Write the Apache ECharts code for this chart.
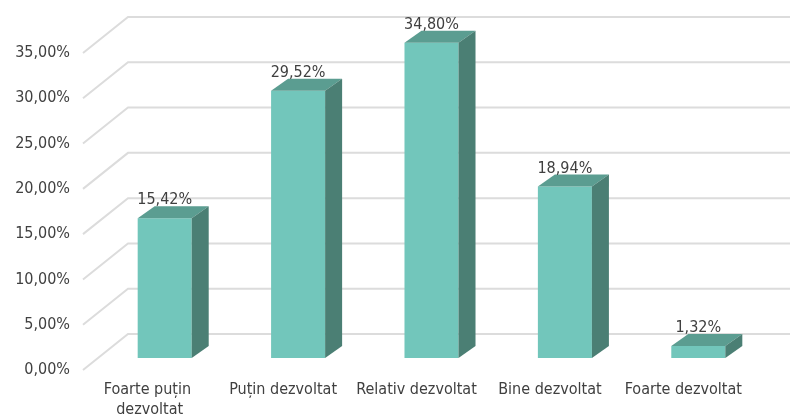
<!DOCTYPE html>
<html>
<head>
<meta charset="utf-8">
<script src="https://cdn.jsdelivr.net/npm/echarts@6/dist/echarts.min.js"></script>
<style>html,body{margin:0;padding:0;background:#fff;}#c{width:790px;height:414px;}</style>
</head>
<body>
<div id="c"></div>
<script>
const categories = ['Foarte puțin dezvoltat', 'Puțin dezvoltat', 'Relativ dezvoltat', 'Bine dezvoltat', 'Foarte dezvoltat'];
const values = [15.42, 29.52, 34.80, 18.94, 1.32];
const yTicks = [0, 5, 10, 15, 20, 25, 30, 35];

const FONT = '"DejaVu Sans Condensed", "DejaVu Sans", sans-serif';
const TXT = '#404040';
// 3D geometry (pixels)
const FLOOR_DX = 45, FLOOR_DY = -36;   // depth of the floor / walls
const BAR_OX = 15, BAR_OY = -12;       // offset of bar front face from front plane
const BAR_DX = 17, BAR_DY = -12;       // depth of each bar
const BAR_W = 0.405;                   // bar width as fraction of band

function fmt(v) { return v.toFixed(2).replace('.', ',') + '%'; }

const chart = echarts.init(document.getElementById('c'), null, {renderer: 'canvas'});
chart.setOption({
  animation: false,
  backgroundColor: '#ffffff',
  grid: {left: 83, top: 53, width: 667, height: 317, containLabel: false, outerBoundsMode: 'none'},
  xAxis: {
    type: 'category',
    data: categories,
    axisLine: {show: false},
    axisTick: {show: false},
    axisLabel: {
      interval: 0, margin: 10, color: TXT, fontFamily: FONT, fontSize: 16,
      lineHeight: 20, width: 160, overflow: 'break'
    }
  },
  yAxis: {
    type: 'value', min: 0, max: 35, interval: 5,
    axisLine: {show: false}, axisTick: {show: false}, splitLine: {show: false},
    axisLabel: {margin: 13, color: TXT, fontFamily: FONT, fontSize: 16, formatter: fmt}
  },
  series: [
    {
      type: 'custom',
      silent: true,
      z: 1,
      data: yTicks.map(v => [0, v]),
      encode: {x: 0, y: 1},
      renderItem: function (params, api) {
        const cs = params.coordSys;
        const p = api.coord([0, api.value(1)]);
        const y = p[1];
        return {
          type: 'polyline',
          shape: {points: [[cs.x, y], [cs.x + FLOOR_DX, y + FLOOR_DY], [cs.x + cs.width + FLOOR_DX + 10, y + FLOOR_DY]]},
          style: {stroke: '#dcdcdc', lineWidth: 2, fill: null}
        };
      }
    },
    {
      type: 'custom',
      silent: true,
      z: 2,
      data: values.map((v, i) => [i, v]),
      encode: {x: 0, y: 1},
      renderItem: function (params, api) {
        const i = api.value(0), v = api.value(1);
        const base = api.coord([i, 0]);
        const top = api.coord([i, v]);
        const band = api.size([1, 0])[0];
        const w = band * BAR_W;
        const x0 = base[0] - w / 2 + BAR_OX;
        const y0 = base[1] + BAR_OY;
        const yt = top[1] + BAR_OY;
        return {
          type: 'group',
          children: [
            {type: 'rect', shape: {x: x0, y: yt, width: w, height: y0 - yt}, style: {fill: '#72c6bb'}},
            {type: 'polygon', shape: {points: [[x0, yt], [x0 + w, yt], [x0 + w + BAR_DX, yt + BAR_DY], [x0 + BAR_DX, yt + BAR_DY]]}, style: {fill: '#5b9d91'}},
            {type: 'polygon', shape: {points: [[x0 + w, yt], [x0 + w + BAR_DX, yt + BAR_DY], [x0 + w + BAR_DX, y0 + BAR_DY], [x0 + w, y0]]}, style: {fill: '#4b7f74'}},
            {type: 'text', style: {text: fmt(v), x: x0 + w / 2, y: yt - 18, align: 'center', verticalAlign: 'middle', fontFamily: FONT, fontSize: 16, fill: TXT}}
          ]
        };
      }
    }
  ]
});
</script>
</body>
</html>
